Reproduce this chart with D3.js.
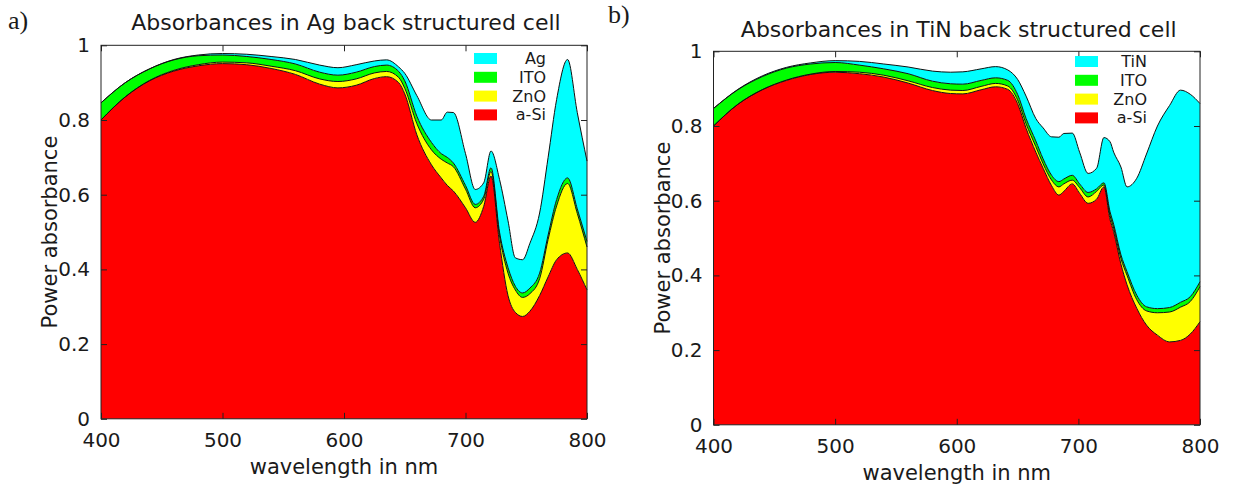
<!DOCTYPE html>
<html lang="en">
<head>
<meta charset="UTF-8" />
<title>Absorbances in back structured cells</title>
<script src="https://cdn.jsdelivr.net/npm/d3@7"></script>
<style>
  body { margin: 0; background: #fff; }
  text { font-family: 'DejaVu Sans', sans-serif; fill: #1a1a1a; }
</style>
</head>
<body>
<svg width="1233" height="484"></svg>
<script>
// layers from bottom to top of the stack
const layersAg = ['a-Si', 'ZnO', 'ITO', 'Ag']
const layersTiN = ['a-Si', 'ZnO', 'ITO', 'TiN']
const layerColors = ['#ff0000', '#ffff00', '#00ff00', '#00ffff']
const xTicks = [400, 500, 600, 700, 800]
const yTicks = [0, 0.2, 0.4, 0.6, 0.8, 1]

// a) Ag back structured cell - absorbance of each layer
const wlAg = [400, 420, 440, 460, 480, 500, 520, 540, 560, 580, 595, 610, 625, 635, 645, 650, 660, 672, 680, 685, 690, 700, 708, 715, 721, 728, 735, 741, 747, 753, 761, 768, 775, 784, 792, 800]
const aSiAg = [.800, .862, .905, .931, .945, .951, .948, .938, .922, .896, .886, .893, .911, .916, .900, .870, .760, .680, .645, .625, .610, .565, .526, .569, .650, .470, .330, .285, .274, .288, .330, .380, .426, .444, .400, .345]
const znoAg = [.000, .000, .001, .002, .003, .004, .005, .006, .010, .014, .017, .017, .015, .014, .014, .015, .030, .040, .050, .060, .065, .050, .039, .019, .012, .020, .060, .060, .051, .047, .045, .100, .144, .186, .150, .115]
const itoAg = [.046, .038, .031, .028, .024, .019, .017, .018, .018, .018, .017, .018, .017, .017, .016, .020, .020, .020, .015, .015, .010, .010, .009, .008, .010, .010, .015, .010, .012, .015, .015, .012, .017, .015, .012, .015]
const agAg = [.000, .000, .000, .001, .002, .004, .006, .008, .012, .019, .020, .020, .015, .014, .012, .020, .055, .060, .090, .121, .135, .085, .040, .036, .045, .141, .125, .076, .089, .120, .161, .208, .268, .317, .258, .215]

// b) TiN back structured cell
const wlTiN = [400, 420, 440, 460, 480, 500, 520, 540, 560, 580, 595, 605, 620, 632, 642, 650, 657, 665, 671, 678, 684, 688, 695, 701, 708, 715, 721, 726, 729, 735, 740, 748, 756, 765, 775, 784, 792, 800]
const aSiTiN = [.800, .858, .897, .922, .938, .944, .940, .931, .915, .895, .887, .886, .897, .905, .898, .860, .794, .730, .687, .640, .615, .625, .645, .620, .593, .604, .637, .550, .517, .430, .375, .312, .267, .240, .222, .226, .243, .276]
const znoTiN = [.000, .000, .000, .001, .001, .002, .004, .005, .006, .008, .009, .009, .009, .009, .009, .010, .012, .015, .012, .015, .022, .020, .010, .015, .017, .021, .005, .010, .010, .015, .025, .023, .038, .060, .080, .089, .087, .094]
const itoTiN = [.047, .039, .035, .032, .027, .024, .019, .017, .019, .017, .017, .017, .016, .015, .015, .015, .014, .015, .013, .013, .014, .013, .013, .010, .012, .007, .006, .011, .010, .010, .010, .012, .011, .011, .012, .013, .013, .013]
const tinTiN = [.000, .001, .002, .002, .003, .005, .010, .013, .018, .027, .031, .033, .031, .030, .028, .040, .060, .060, .083, .103, .119, .122, .113, .085, .051, .055, .121, .187, .193, .235, .227, .313, .409, .489, .541, .568, .542, .477]

const svg = d3.select('svg')

// panel labels a) b)
svg.append('text').attr('x', 8).attr('y', 29).text('a)')
  .style('font-family', "'Liberation Serif', serif").style('font-size', '26px').attr('fill', '#2a2218')
svg.append('text').attr('x', 608).attr('y', 23).text('b)')
  .style('font-family', "'Liberation Serif', serif").style('font-size', '26px').attr('fill', '#2a2218')

function drawPanel(p) {
  const rows = p.wl.map((w, i) => {
    const r = { wl: w }
    p.layers.forEach((k, j) => (r[k] = p.values[j][i]))
    return r
  })
  const stack = d3.stack().keys(p.layers)(rows)

  const x = d3.scaleLinear().domain([400, 800]).range([p.left, p.right])
  const y = d3.scaleLinear().domain([0, 1]).range([p.bottom, p.top])

  const g = svg.append('g')

  const area = d3.area()
    .curve(d3.curveMonotoneX)
    .x((d) => x(d.data.wl))
    .y0((d) => y(d[0]))
    .y1((d) => y(d[1]))
  const line = d3.line()
    .curve(d3.curveMonotoneX)
    .x((d) => x(d.data.wl))
    .y((d) => y(d[1]))

  g.selectAll('path.layer')
    .data(stack)
    .enter()
    .append('path')
    .attr('class', 'layer')
    .attr('d', area)
    .attr('fill', (d, i) => layerColors[i])

  g.selectAll('path.edge')
    .data(stack)
    .enter()
    .append('path')
    .attr('class', 'edge')
    .attr('d', line)
    .attr('fill', 'none')
    .attr('stroke', '#111')
    .attr('stroke-width', 1)

  // axes, ticks pointing inwards on all four sides
  const bottomAxis = d3.axisBottom(x).tickValues(xTicks).tickSize(-6).tickPadding(14)
  const topAxis = d3.axisTop(x).tickValues(xTicks).tickSize(-6).tickFormat('')
  const leftAxis = d3.axisLeft(y).tickValues(yTicks).tickSize(-6).tickPadding(11).tickFormat((d) => (d === 0 || d === 1 ? d : d.toFixed(1)))
  const rightAxis = d3.axisRight(y).tickValues(yTicks).tickSize(-6).tickFormat('')

  const axes = [
    [bottomAxis, `translate(0,${p.bottom})`],
    [topAxis, `translate(0,${p.top})`],
    [leftAxis, `translate(${p.left},0)`],
    [rightAxis, `translate(${p.right},0)`],
  ]
  axes.forEach(([ax, tr]) => {
    const a = g.append('g').attr('transform', tr).call(ax)
    a.select('.domain').remove()
    a.selectAll('line').attr('stroke', '#222')
    a.selectAll('text').style('font-size', '20px').style('font-family', "'DejaVu Sans', sans-serif").attr('fill', '#1a1a1a')
  })

  g.append('rect')
    .attr('x', p.left)
    .attr('y', p.top)
    .attr('width', p.right - p.left)
    .attr('height', p.bottom - p.top)
    .attr('fill', 'none')
    .attr('stroke', '#222')
    .attr('stroke-width', 1)

  const cx = (p.left + p.right) / 2
  g.append('text').attr('x', cx + 2).attr('y', p.titleY).attr('text-anchor', 'middle')
    .style('font-size', '22px').text(p.title)
  g.append('text').attr('x', cx).attr('y', p.bottom + 55).attr('text-anchor', 'middle')
    .style('font-size', '21px').text('wavelength in nm')
  g.append('text')
    .attr('transform', `translate(${p.left - 44},${(p.top + p.bottom) / 2}) rotate(-90)`)
    .attr('text-anchor', 'middle')
    .style('font-size', '21px')
    .text('Power absorbance')

  // legend, top entry is the top layer
  const legend = g.append('g')
  const items = p.layers.map((k, i) => ({ name: k, color: layerColors[i] })).reverse()
  items.forEach((it, i) => {
    const ly = p.legendY + i * 18.8
    legend.append('rect')
      .attr('x', p.legendX)
      .attr('y', ly)
      .attr('width', 23)
      .attr('height', 11)
      .attr('fill', it.color)
    legend.append('text')
      .attr('x', p.legendX + 72)
      .attr('y', ly + 11)
      .attr('text-anchor', 'end')
      .style('font-size', '16px')
      .text(it.name)
  })
}

drawPanel({
  wl: wlAg,
  layers: layersAg,
  values: [aSiAg, znoAg, itoAg, agAg],
  left: 101, right: 587, top: 45.3, bottom: 418.8,
  title: 'Absorbances in Ag back structured cell',
  titleY: 30,
  legendX: 474, legendY: 53,
})

drawPanel({
  wl: wlTiN,
  layers: layersTiN,
  values: [aSiTiN, znoTiN, itoTiN, tinTiN],
  left: 713.5, right: 1200, top: 51.3, bottom: 424.8,
  title: 'Absorbances in TiN back structured cell',
  titleY: 37,
  legendX: 1075, legendY: 56,
})
</script>
</body>
</html>
